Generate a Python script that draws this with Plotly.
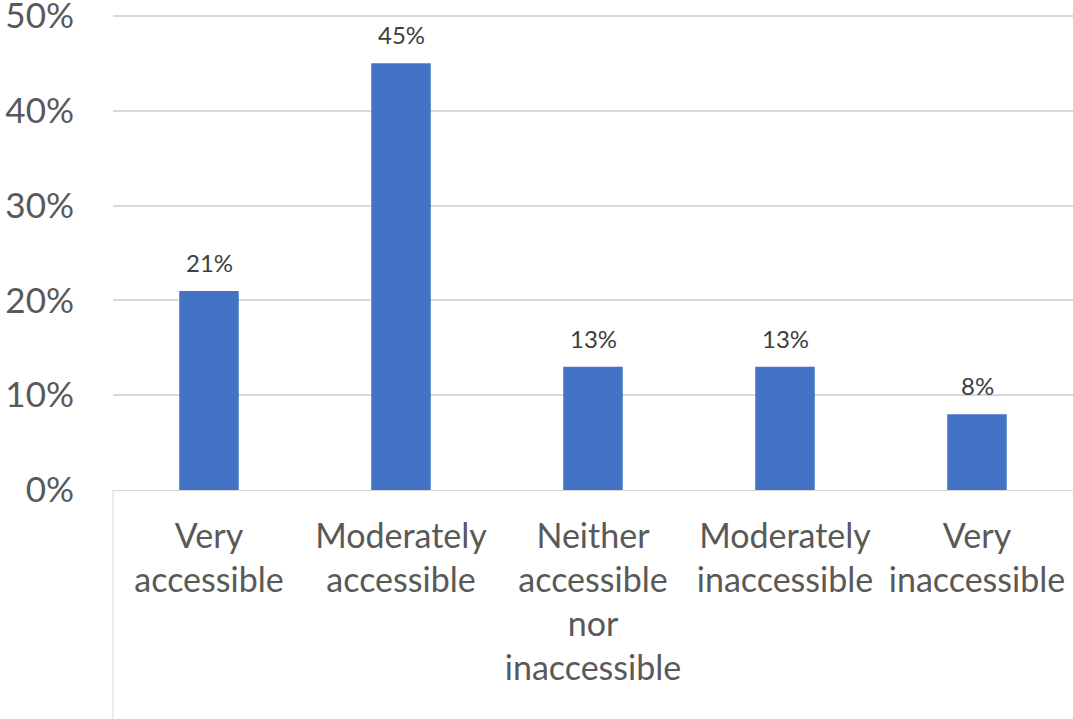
import plotly.graph_objects as go

categories = ["Very<br>accessible", "Moderately<br>accessible",
              "Neither<br>accessible<br>nor<br>inaccessible",
              "Moderately<br>inaccessible", "Very<br>inaccessible"]
values = [0.21, 0.45, 0.13, 0.13, 0.08]
value_labels = ["21%", "45%", "13%", "13%", "8%"]
tick_vals = [0, 0.1, 0.2, 0.3, 0.4, 0.5]
tick_text = ["0%", "10%", "20%", "30%", "40%", "50%"]

FONT = "Lato"

fig = go.Figure()
fig.add_trace(go.Bar(x=categories, y=values, marker=dict(color="#4472C4", line=dict(width=0)),
                     hoverinfo="skip"))

for c, v, t in zip(categories, values, value_labels):
    fig.add_annotation(x=c, y=v, text=t, showarrow=False, yanchor="bottom", yshift=12,
                       font=dict(family=FONT, size=24, color="#404040"))

fig.add_shape(type="line", xref="paper", yref="paper", x0=0, x1=0, y0=0, y1=-0.5,
              line=dict(color="#d9d9d9", width=1))

fig.update_layout(
    width=1073, height=719,
    margin=dict(l=113, r=0, t=14, b=229, autoexpand=False),
    paper_bgcolor="white", plot_bgcolor="white",
    bargap=0.69,
    showlegend=False,
    font=dict(family=FONT, color="#595959"),
    xaxis=dict(showline=True, linecolor="#d9d9d9", linewidth=1, showgrid=False,
               tickfont=dict(family=FONT, size=34, color="#595959"),
               ticklabelstandoff=16, fixedrange=True, automargin=False),
    yaxis=dict(range=[0, 0.502], tickvals=tick_vals, ticktext=tick_text,
               showgrid=True, gridcolor="#d9d9d9", gridwidth=1.5,
               zeroline=False, showline=False, ticklabeloverflow="allow",
               tickfont=dict(family=FONT, size=35, color="#595959"),
               ticklabelstandoff=38, fixedrange=True, automargin=False),
)

fig.write_html("out.html")
